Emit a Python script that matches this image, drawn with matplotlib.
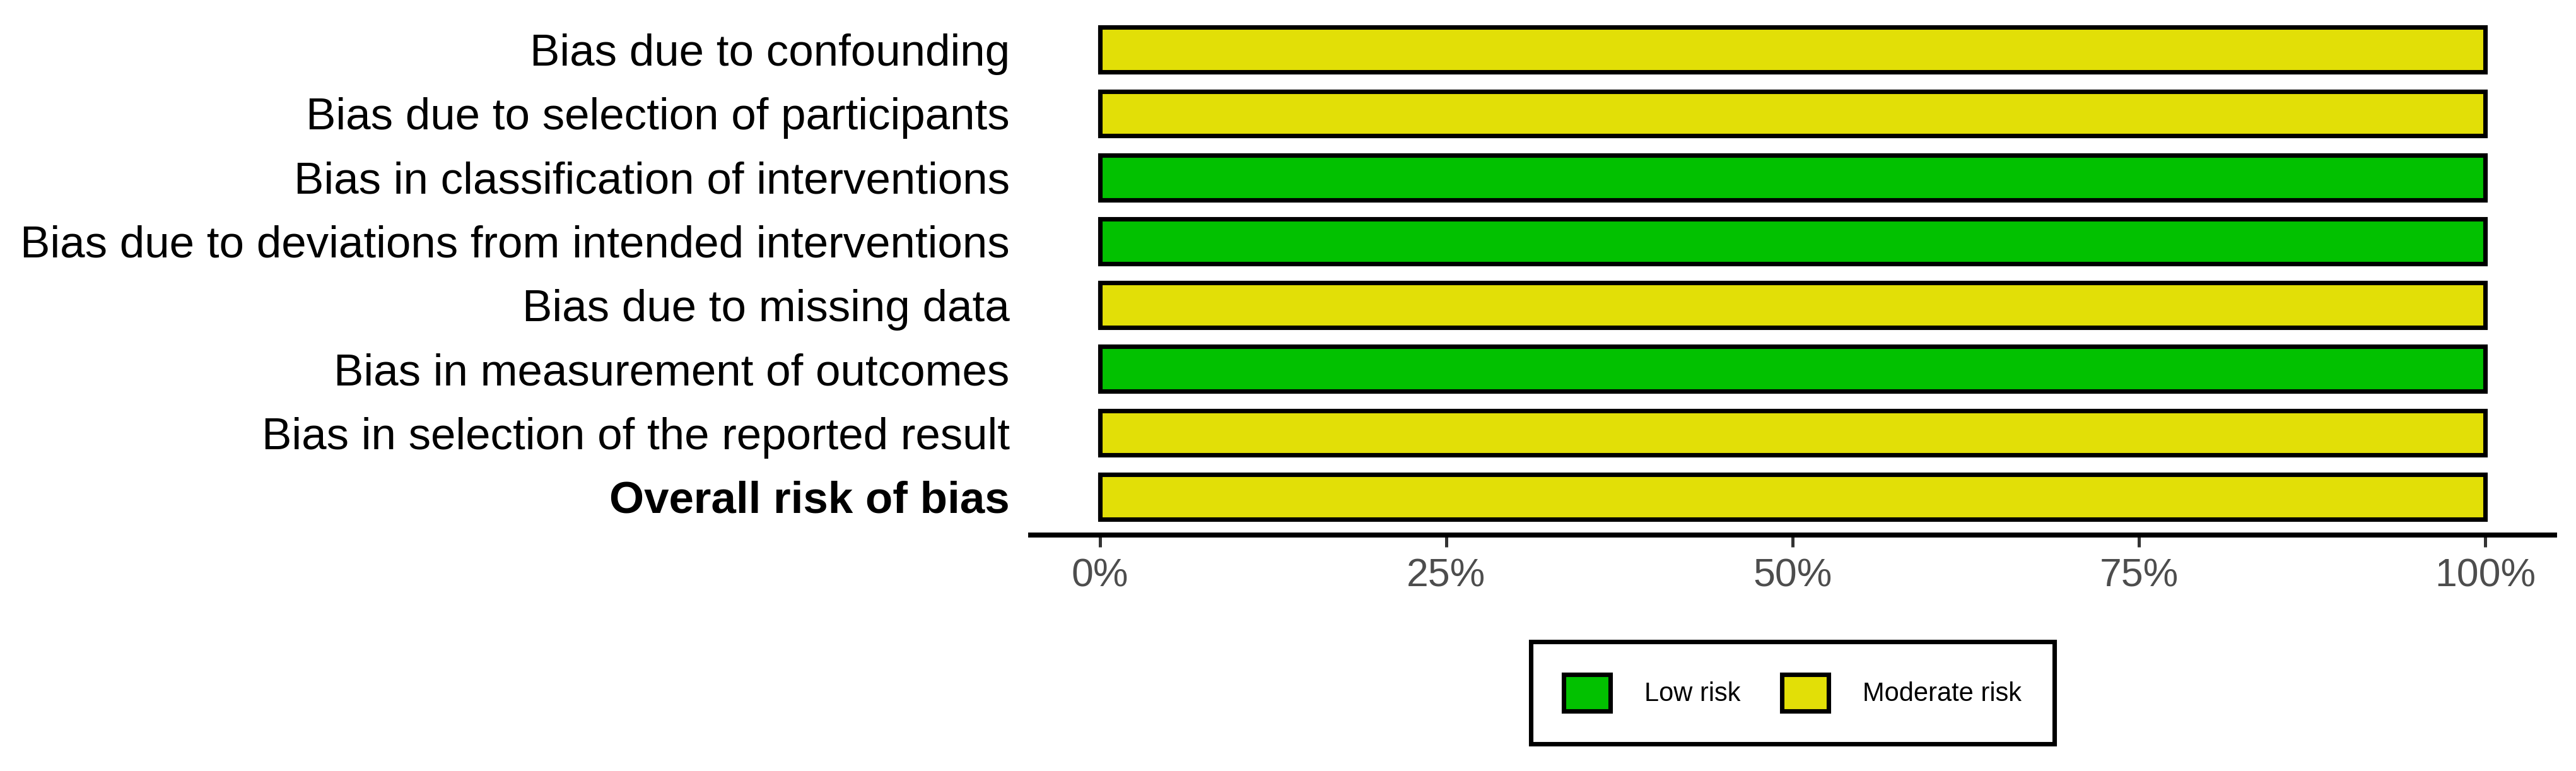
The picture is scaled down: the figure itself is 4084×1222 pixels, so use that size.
import numpy as np
import matplotlib
matplotlib.use("Agg")
import matplotlib.pyplot as plt
from matplotlib.patches import Patch
from matplotlib.ticker import PercentFormatter

# ---------------------------------------------------------------------------
# Data (ROBINS-I summary, % of studies per judgement)
# ---------------------------------------------------------------------------
DOMAINS = [
    "Bias due to confounding",
    "Bias due to selection of participants",
    "Bias in classification of interventions",
    "Bias due to deviations from intended interventions",
    "Bias due to missing data",
    "Bias in measurement of outcomes",
    "Bias in selection of the reported result",
    "Overall risk of bias",
]
LOW_RISK = [0, 0, 100, 100, 0, 100, 0, 0]
MODERATE_RISK = [100, 100, 0, 0, 100, 0, 100, 100]
XTICKS = [0, 25, 50, 75, 100]

COL_LOW = "#02C100"
COL_MOD = "#E2DF07"

plt.rcParams["font.family"] = ["Liberation Sans", "DejaVu Sans"]

W, H, DPI = 4084, 1222, 300
fig = plt.figure(figsize=(W / DPI, H / DPI), dpi=DPI)
ax = fig.add_axes([1634 / W, 1 - 848 / H, (4050 - 1634) / W, (848 - 18) / H])

n = len(DOMAINS)
y = np.arange(n)[::-1]
low = np.array(LOW_RISK)
mod = np.array(MODERATE_RISK)

ax.barh(y, low, height=0.7, color=COL_LOW, edgecolor="black", linewidth=1.7)
ax.barh(y, mod, left=low, height=0.7, color=COL_MOD, edgecolor="black", linewidth=1.7)

ax.set_xlim(-5, 105)
ax.set_ylim(-0.6, n - 0.4)
ax.set_xticks(XTICKS)
ax.xaxis.set_major_formatter(PercentFormatter(decimals=0))
ax.set_yticks(y)
ax.set_yticklabels(DOMAINS)
ax.get_yticklabels()[-1].set_fontweight("bold")

for s in ["top", "right", "left"]:
    ax.spines[s].set_visible(False)
ax.spines["bottom"].set_linewidth(1.9)

ax.tick_params(axis="x", length=4.6, width=1.2, color="#333333",
               labelsize=15, labelcolor="#4D4D4D", pad=4)
ax.tick_params(axis="y", length=0, labelsize=17, labelcolor="black", pad=8)

handles = [
    Patch(facecolor=COL_LOW, edgecolor="black", linewidth=1.7, label="Low risk"),
    Patch(facecolor=COL_MOD, edgecolor="black", linewidth=1.7, label="Moderate risk"),
]
leg = fig.legend(handles=handles, loc="center", ncol=2,
                 bbox_to_anchor=(2842 / W, 1 - 1098 / H),
                 fontsize=10, frameon=True, fancybox=False, framealpha=1,
                 handlelength=1.77, handleheight=1.77, handletextpad=1.3,
                 columnspacing=1.56, borderpad=1.25, borderaxespad=0)
leg.get_frame().set_edgecolor("black")
leg.get_frame().set_linewidth(1.7)

fig.savefig("out.png", dpi=DPI)
